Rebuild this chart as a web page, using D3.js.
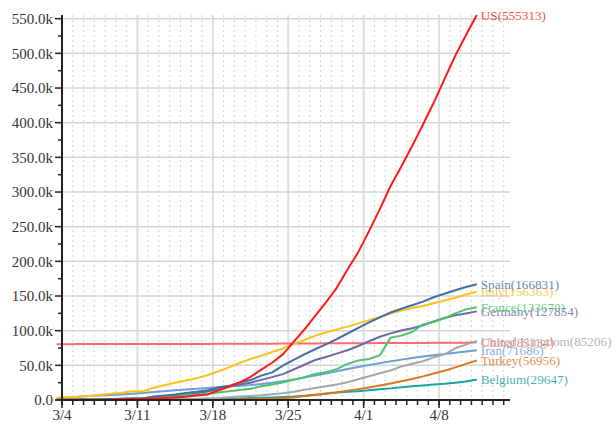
<!DOCTYPE html>
<html><head><meta charset="utf-8">
<script src="https://cdn.jsdelivr.net/npm/d3@7"></script>
<style>
body{margin:0;background:#fff;}
text{font-family:"Liberation Serif","Times New Roman",serif;}
</style></head>
<body><svg id="c" width="614" height="425"></svg>
<script>
const dates = ["3/4","3/5","3/6","3/7","3/8","3/9","3/10","3/11","3/12","3/13","3/14","3/15","3/16","3/17","3/18","3/19","3/20","3/21","3/22","3/23","3/24","3/25","3/26","3/27","3/28","3/29","3/30","3/31","4/1","4/2","4/3","4/4","4/5","4/6","4/7","4/8","4/9","4/10","4/11","4/12"];
const xTickLabels = ["3/4","3/11","3/18","3/25","4/1","4/8"];
const yTickValues = [0,50000,100000,150000,200000,250000,300000,350000,400000,450000,500000,550000];

const china = [80422,80573,80652,80699,80735,80757,80785,80793,80801,80827,80849,80869,80894,80922,80949,81003,81056,81112,81198,81251,81305,81435,81498,81584,81663,81719,81776,81834,81910,81998,82068,82143,82199,82279,82361,82432,82511,82567,82643,83134];
const belgium = [13,23,50,109,169,200,239,267,314,314,559,689,886,1058,1243,1486,1795,2257,2815,3401,3743,4269,4937,6235,7284,9134,10836,11899,12775,13964,15348,16770,18431,19691,20814,22194,23403,24983,26667,29647];
const turkey = [0,0,0,0,0,0,0,1,1,5,5,6,18,47,98,192,359,670,1236,1529,1872,2433,3629,5698,7402,9217,10827,13531,15679,18135,20921,23934,27069,30217,34109,38226,42282,47029,52167,56956];
const iran = [2922,3513,4747,5823,6566,7161,8042,9000,10075,11364,12729,13938,14991,16169,17361,18407,19644,20610,21638,23049,24811,27017,29406,32332,35408,38309,41495,44605,47593,50468,53183,55743,58226,60500,62589,64586,66220,68192,70029,71686];
const uk = [86,116,164,207,274,322,384,459,459,802,1144,1145,1551,1960,2642,2716,4014,5067,5745,6726,8164,9640,11812,14745,17312,19780,22453,25481,29865,34173,38689,42477,48436,52279,55949,61474,65872,74605,79874,85206];
const germany = [262,482,670,799,1040,1176,1457,1908,2078,3675,4585,5795,7272,9257,12327,15320,19848,22213,24873,29056,32986,37323,43938,50871,57695,62095,66885,71808,77872,84794,91159,96092,100123,103374,107663,113296,118181,122171,124908,127854];
const france = [285,377,653,949,1126,1209,1784,2284,2284,3667,4480,4513,6650,7652,9043,10871,12612,14282,16176,19856,22304,25233,29155,32964,37575,40174,44550,52128,56989,59105,64338,89953,92839,98010,109069,112950,117749,124869,130730,133670];
const italy = [3089,3858,4636,5883,7375,9172,10149,12462,12462,17660,21157,24747,27980,31506,35713,41035,47021,53578,59138,63927,69176,74386,80589,86498,92472,97689,101739,105792,110574,115242,119827,124632,128948,132547,135586,139422,143626,147577,152271,156363];
const spain = [222,259,400,500,673,1073,1695,2277,2277,5232,6391,7798,9942,11748,13910,17963,20410,25374,28768,35136,39885,49515,57786,65719,73235,80110,87956,95923,104118,112065,119199,126168,131646,136675,141942,148220,153222,158273,163027,166831];
const us = [158,221,319,435,541,704,994,1301,1630,2183,2770,3613,4596,6344,7754,13677,19100,25489,33272,43847,53740,65778,83836,101657,121465,140909,161831,188172,213242,243622,275367,308650,336802,366317,397121,428654,462780,496535,526396,555313];

const seriesNames = ["China","Belgium","Turkey","Iran","United Kingdom","Germany","France","Italy","Spain","US"];
const seriesValues = [china,belgium,turkey,iran,uk,germany,france,italy,spain,us];
const seriesColors = ["#ff6b6b","#1aa3a3","#e0761c","#6b9fd6","#a6a6a6","#6a6aa6","#4cc46e","#fcc21c","#3f6fa6","#ff1a1a"];

const parseDay = s => { const [m,d] = s.split("/").map(Number); return new Date(2020, m-1, d); };
const HALF = 12*3600*1000;

const svg = d3.select("#c");
const L = 62, R = 510, T = 15, B = 400;
const x = d3.scaleTime().domain([new Date(2020,2,4), new Date(2020,3,14,14)]).range([L,R]);
const yMax = d3.max(seriesValues.flat());
const y = d3.scaleLinear().domain([0, yMax]).range([B,T]);

const days = d3.timeDay.range(new Date(2020,2,4), new Date(2020,3,15)).filter(d => x(d) <= R+0.5);
svg.append("g").selectAll("line").data(days).join("line")
  .attr("x1", d=>x(d)).attr("x2", d=>x(d)).attr("y1", T).attr("y2", B)
  .attr("stroke", "#d4d4d4").attr("stroke-width", 1).attr("stroke-dasharray", "2,3");
const weeks = xTickLabels.map(parseDay);
svg.append("g").selectAll("line").data(weeks.slice(1)).join("line")
  .attr("x1", d=>x(d)).attr("x2", d=>x(d)).attr("y1", T).attr("y2", B)
  .attr("stroke", "#dedede").attr("stroke-width", 2);
svg.append("g").selectAll("line").data(yTickValues.slice(1)).join("line")
  .attr("x1", L).attr("x2", R).attr("y1", d=>y(d)).attr("y2", d=>y(d))
  .attr("stroke", "#d6d6d6").attr("stroke-width", 1.5);

const line = d3.line().x((v,i)=>x(new Date(parseDay(dates[i]).getTime()-HALF))).y(v=>y(v));
seriesValues.forEach((vals,k)=>{
  svg.append("path").datum(vals).attr("d", line).attr("fill","none")
    .attr("stroke", seriesColors[k]).attr("stroke-width", 2).attr("stroke-linejoin","round");
});
seriesValues.forEach((vals,k)=>{
  const last = vals.length-1;
  svg.append("text")
    .attr("x", x(new Date(parseDay(dates[last]).getTime()-HALF)) + 4)
    .attr("y", y(vals[last])).attr("dy", "0.35em")
    .attr("fill", seriesColors[k]).attr("fill-opacity", 0.85)
    .style("font-size", "13.2px")
    .text(`${seriesNames[k]}(${vals[last]})`);
});

const yMinor = d3.range(25000, yMax, 50000);
const gy = svg.append("g");
gy.selectAll("line.mj").data(yTickValues).join("line").attr("class","mj")
  .attr("x1", L-7).attr("x2", L).attr("y1", d=>y(d)).attr("y2", d=>y(d)).attr("stroke","#222").attr("stroke-width",1.5);
gy.selectAll("line.mn").data(yMinor).join("line").attr("class","mn")
  .attr("x1", L-4).attr("x2", L).attr("y1", d=>y(d)).attr("y2", d=>y(d)).attr("stroke","#222").attr("stroke-width",1.5);
gy.append("line").attr("x1", L).attr("x2", L).attr("y1", T).attr("y2", B+1).attr("stroke","#222").attr("stroke-width",2);
gy.selectAll("text").data(yTickValues).join("text")
  .attr("x", L-9).attr("y", d=>y(d)).attr("dy","0.35em").attr("text-anchor","end")
  .attr("fill","#333").style("font-size","15px")
  .text(d => d===0 ? "0.0" : (d/1000).toFixed(1)+"k");

const gx = svg.append("g");
gx.append("line").attr("x1", L).attr("x2", R).attr("y1", B).attr("y2", B).attr("stroke","#222").attr("stroke-width",2);
gx.selectAll("line.d").data(days).join("line").attr("class","d")
  .attr("x1", d=>x(d)).attr("x2", d=>x(d)).attr("y1", B).attr("y2", B+5).attr("stroke","#222").attr("stroke-width",1.5);
gx.selectAll("line.w").data(weeks).join("line").attr("class","w")
  .attr("x1", d=>x(d)).attr("x2", d=>x(d)).attr("y1", B).attr("y2", B+8).attr("stroke","#222").attr("stroke-width",1.5);
gx.selectAll("text").data(weeks).join("text")
  .attr("x", d=>x(d)).attr("y", B+20).attr("text-anchor","middle")
  .attr("fill","#333").style("font-size","15px")
  .text((d,i)=>xTickLabels[i]);
</script></body></html>
